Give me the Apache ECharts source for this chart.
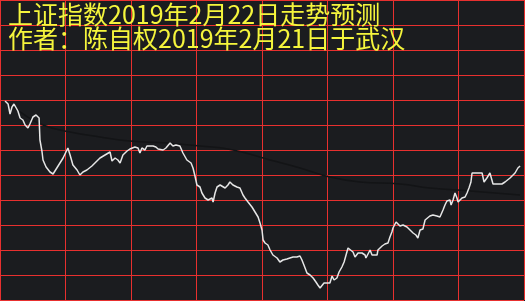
<!DOCTYPE html>
<html>
<head>
<meta charset="utf-8">
<script src="https://cdn.jsdelivr.net/npm/echarts@6/dist/echarts.min.js"></script>
<style>
html,body{margin:0;padding:0;background:#1b1c1f;}
#chart{width:525px;height:301px;}
</style>
</head>
<body>
<div id="chart"></div>
<script>
// Title lines
const titleLines = ['上证指数2019年2月22日走势预测', '作者：陈自权2019年2月21日于武汉'];

// Minutes from market open (0..240) for the price line
const priceTimes = [
  2.3,3.7,4.6,5.5,6.4,7.3,8.2,9.2,10.5,11.5,12.8,13.7,15.1,16.5,17.9,18.3,19.2,19.7,21.1,22.9,
  24.3,26.6,28.9,30.2,31.1,32.1,33.4,35.3,36.6,38.0,39.8,42.1,44.4,45.8,48.1,50.4,51.3,52.7,54.0,55.0,
  56.3,58.2,59.5,61.8,63.2,64.1,65.0,66.4,67.3,68.7,70.1,71.4,72.4,73.3,74.7,76.0,76.9,77.9,79.2,80.6,
  82.4,83.8,85.6,87.5,88.4,89.3,90.2,91.6,92.5,93.9,95.3,97.1,97.6,98.5,99.4,100.8,103.1,104.4,105.3,106.7,
  108.5,109.9,111.3,112.2,113.6,115.4,116.8,118.2,119.1,120.0,120.5,121.4,122.7,123.7,125.0,126.9,128.2,129.6,131.4,132.8,
  134.2,135.1,136.0,137.4,138.3,139.2,140.6,142.0,143.4,144.7,145.6,146.6,147.5,148.4,149.8,151.1,152.1,153.0,154.3,155.3,
  156.6,157.6,158.5,159.4,160.3,161.7,162.6,164.0,165.8,167.2,167.6,168.5,169.5,170.4,172.7,173.1,175.0,176.3,177.7,178.6,
  179.5,180.0,181.4,182.3,183.2,184.6,186.4,187.8,189.2,190.5,191.4,192.4,193.7,194.7,195.6,196.9,198.3,200.1,201.5,202.9,
  203.8,204.7,206.1,206.6,207.5,208.4,209.3,209.8,211.6,213.0,213.9,214.8,215.7,216.2,217.6,218.9,219.4,220.8,221.2,221.7,
  223.0,224.4,225.3,225.8,228.1,229.9,231.3,232.2,233.6,234.5,235.9,236.8,237.2,238.2
];
// Predicted index values
const priceValues = [
  2779.8,2779.2,2777.2,2778.6,2779.2,2779.6,2777.8,2776.4,2776.0,2775.0,2774.4,2775.2,2776.6,2777.0,2776.4,2772.0,2769.8,2768.0,2766.6,2765.6,
  2765.2,2766.8,2768.4,2769.6,2770.4,2769.0,2767.0,2766.0,2765.0,2765.6,2766.0,2766.8,2767.8,2768.4,2769.0,2769.6,2767.8,2768.4,2768.0,2767.4,
  2769.0,2769.8,2770.2,2770.6,2770.4,2769.4,2770.4,2770.0,2770.8,2770.8,2770.8,2770.6,2770.2,2770.0,2770.0,2770.4,2770.0,2771.4,2770.8,2771.0,
  2770.8,2769.4,2768.0,2767.4,2766.4,2764.8,2763.0,2762.6,2761.4,2760.4,2760.0,2760.4,2759.6,2761.4,2762.6,2763.0,2762.4,2763.0,2763.6,2763.0,
  2762.6,2762.4,2761.0,2760.4,2759.6,2758.6,2757.6,2756.6,2755.4,2754.0,2752.0,2751.4,2751.0,2750.0,2749.0,2748.4,2747.6,2748.0,2748.2,2748.4,
  2748.6,2749.0,2748.6,2748.8,2748.0,2747.0,2745.4,2745.0,2744.4,2743.6,2743.0,2742.4,2742.2,2743.4,2743.4,2743.4,2744.8,2744.0,2744.4,2745.6,
  2746.6,2747.6,2749.0,2750.4,2750.0,2749.6,2748.6,2749.4,2749.4,2749.0,2748.4,2748.6,2750.0,2749.0,2749.0,2750.0,2750.8,2751.2,2751.4,2752.6,
  2753.6,2754.4,2755.6,2756.0,2754.8,2755.0,2754.6,2754.0,2753.4,2753.0,2752.4,2754.0,2754.2,2756.0,2756.4,2756.8,2757.0,2756.8,2756.6,2758.0,
  2759.0,2759.8,2760.0,2759.0,2760.0,2761.4,2760.4,2759.6,2760.4,2760.6,2761.4,2762.4,2763.6,2765.4,2765.4,2765.4,2765.8,2765.4,2764.6,2763.6,
  2764.4,2765.4,2764.0,2763.2,2763.2,2763.2,2763.6,2763.8,2764.4,2764.6,2765.4,2765.4,2766.4,2766.8
];

// Faint average-price line
const avgTimes  = [2.3,9.2,19.7,32.1,45.8,59.5,76.5,91.6,106.7,123.7,137.4,151.1,164.9,183.2,196.9,215.3,238.2];
const avgValues = [2779.8,2777.6,2775.0,2773.6,2772.6,2771.8,2771.4,2770.8,2770.0,2768.0,2766.4,2764.6,2763.6,2763.2,2762.4,2761.8,2761.0];

// Axis ranges (grid: 8 half-hour columns, 12 rows)
const timeMin = 0, timeMax = 240, timeStep = 30;
const valMin = 2740, valMax = 2800, valStep = 5;

const pricePairs = priceTimes.map((t, i) => [t, priceValues[i]]);
const avgPairs = avgTimes.map((t, i) => [t, avgValues[i]]);

const chart = echarts.init(document.getElementById('chart'));
const red = '#e8302f';
chart.setOption({
  backgroundColor: '#1b1c1f',
  animation: false,
  grid: { left: 0, top: 0, width: 524, height: 300 },
  title: {
    text: titleLines.join('\n'),
    left: 8,
    top: 2,
    padding: 0,
    textStyle: {
      color: '#f5f53c',
      fontFamily: 'Noto Sans CJK SC',
      fontSize: 25,
      fontWeight: 'normal',
      lineHeight: 24
    }
  },
  xAxis: {
    type: 'value', min: timeMin, max: timeMax, interval: timeStep,
    axisLine: { show: false }, axisTick: { show: false }, axisLabel: { show: false },
    splitLine: { show: true, showMinLine: true, showMaxLine: true, lineStyle: { color: red, width: 1 } }
  },
  yAxis: {
    type: 'value', min: valMin, max: valMax, interval: valStep,
    axisLine: { show: false }, axisTick: { show: false }, axisLabel: { show: false },
    splitLine: { show: true, showMinLine: true, showMaxLine: true, lineStyle: { color: red, width: 1 } }
  },
  series: [
    {
      type: 'line', data: avgPairs, smooth: true, symbol: 'none',
      lineStyle: { color: '#131416', width: 1.5 }, z: 1
    },
    {
      type: 'line', data: pricePairs, symbol: 'none',
      lineStyle: { color: '#e6e6e6', width: 1.5 }, z: 3
    }
  ]
});
</script>
</body>
</html>
